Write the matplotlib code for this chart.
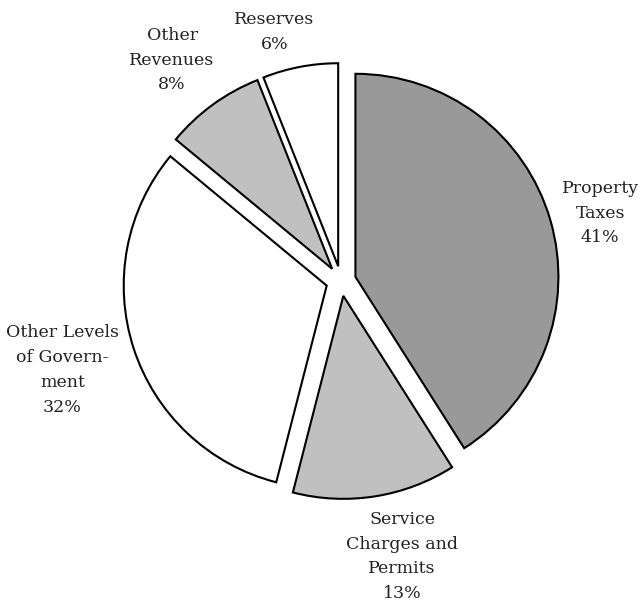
import numpy as np
import matplotlib.pyplot as plt

labels = ["Property\nTaxes", "Service\nCharges and\nPermits", "Other Levels\nof Govern-\nment",
          "Other\nRevenues", "Reserves"]
shares = [41, 13, 32, 8, 6]
colors = ["#999999", "#c0c0c0", "#ffffff", "#c0c0c0", "#ffffff"]
label_dist = [1.32, 1.39, 1.44, 1.37, 1.27]
label_shift = [-1.5, 3.5, -0.3, 1.4, 4.2]  # degrees

if __name__ == "__main__":
    fig = plt.figure(figsize=(6.4, 6.04), dpi=100)
    ax = fig.add_axes([0, 0, 1, 1])
    R = 203.0
    cx, cy = 341.0, 281.0
    wedges, _ = ax.pie(shares, colors=colors, startangle=90, counterclock=False,
                       explode=[0.074] * len(shares), radius=1.0,
                       wedgeprops=dict(edgecolor="black", linewidth=1.5))
    ax.set_xlim(-cx / R, (640 - cx) / R)
    ax.set_ylim(-(604 - cy) / R, cy / R)
    ax.set_aspect("auto")
    ax.axis("off")

    for w, lab, s, d, sh in zip(wedges, labels, shares, label_dist, label_shift):
        ang = np.deg2rad((w.theta1 + w.theta2) / 2 + sh)
        ax.text(d * np.cos(ang), d * np.sin(ang), f"{lab}\n{s}%",
                ha="center", va="center", multialignment="center",
                family="DejaVu Serif", fontsize=12.5, linespacing=1.6, color="#222222")

    fig.savefig("out.png", dpi=100)
